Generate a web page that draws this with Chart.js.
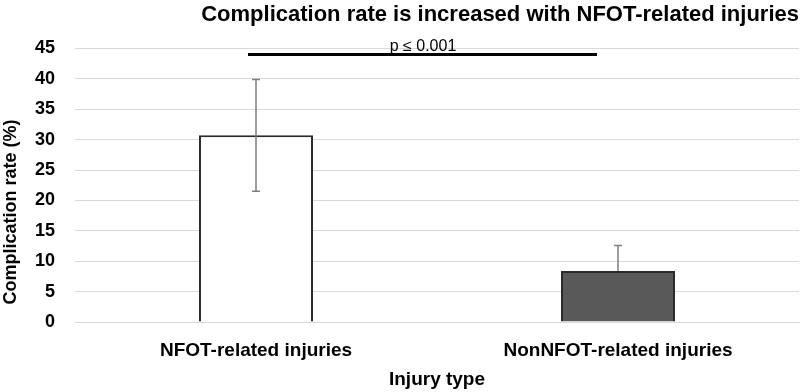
<!DOCTYPE html>
<html>
<head>
<meta charset="utf-8">
<script src="https://cdn.jsdelivr.net/npm/chart.js@4"></script>
<style>
  html, body { margin: 0; padding: 0; background: #fff; }
  #wrap { width: 800px; height: 392px; }
</style>
</head>
<body>
<div id="wrap"><canvas id="barChart" width="800" height="392"></canvas></div>
<script>
const categories = ["NFOT-related injuries", "NonNFOT-related injuries"];
const rates = [30.7, 8.4];
const errPlus = [9.2, 4.2];
const errMinus = [9.2, 0];
const barColors = ["#ffffff", "#595959"];
const yTicks = [0, 5, 10, 15, 20, 25, 30, 35, 40, 45];
const sigY = 44;
const sigLabel = "p \u2264 0.001";

const FONT = "'Liberation Sans', Arial, sans-serif";

const extras = {
  id: "extras",
  afterDatasetsDraw(chart) {
    const ctx = chart.ctx;
    const x = chart.scales.x;
    const y = chart.scales.y;
    ctx.save();
    // error bars
    ctx.strokeStyle = "#7f7f7f";
    ctx.lineWidth = 1.5;
    rates.forEach((v, i) => {
      const cx = x.getPixelForValue(i);
      const top = y.getPixelForValue(v + errPlus[i]);
      const bot = y.getPixelForValue(v - errMinus[i]);
      ctx.beginPath();
      ctx.moveTo(cx, top);
      ctx.lineTo(cx, bot);
      ctx.moveTo(cx - 4, top);
      ctx.lineTo(cx + 4, top);
      if (errMinus[i] > 0) {
        ctx.moveTo(cx - 4, bot);
        ctx.lineTo(cx + 4, bot);
      }
      ctx.stroke();
    });
    // significance line
    const x0 = x.getPixelForValue(0) - 8;
    const x1 = x.getPixelForValue(1) - 21;
    const sy = y.getPixelForValue(sigY);
    ctx.strokeStyle = "#000";
    ctx.lineWidth = 3;
    ctx.beginPath();
    ctx.moveTo(x0, sy);
    ctx.lineTo(x1, sy);
    ctx.stroke();
    ctx.fillStyle = "#000";
    ctx.font = "16px " + FONT;
    ctx.textAlign = "center";
    ctx.textBaseline = "bottom";
    ctx.fillText(sigLabel, (x0 + x1) / 2 + 0.5, sy);
    // y axis title
    ctx.translate(11, 212);
    ctx.rotate(-Math.PI / 2);
    ctx.font = "bold 18px " + FONT;
    ctx.textBaseline = "middle";
    ctx.fillText("Complication rate (%)", 0, 0);
    ctx.restore();
  }
};

new Chart(document.getElementById("barChart").getContext("2d"), {
  type: "bar",
  data: {
    labels: categories,
    datasets: [{
      data: rates,
      backgroundColor: barColors,
      borderColor: "#2b2b2b",
      borderWidth: 2,
      categoryPercentage: 1,
      barPercentage: 0.315
    }]
  },
  options: {
    responsive: false,
    animation: false,
    layout: { padding: { right: 1 } },
    plugins: {
      legend: { display: false },
      tooltip: { enabled: false },
      title: {
        display: true,
        text: "Complication rate is increased with NFOT-related injuries",
        color: "#000",
        font: { family: FONT, size: 22, weight: "bold" },
        align: "end",
        padding: { top: 2, bottom: 20 }
      }
    },
    scales: {
      x: {
        grid: { display: false, drawTicks: false },
        border: { color: "#d9d9d9" },
        ticks: { color: "#000", padding: 17, font: { family: FONT, size: 19, weight: "bold" } },
        title: {
          display: true,
          text: "Injury type",
          color: "#000",
          font: { family: FONT, size: 19, weight: "bold" },
          padding: { top: 0, bottom: 1 }
        },
        afterFit: s => { s.height = 70; }
      },
      y: {
        min: 0,
        max: 45,
        afterBuildTicks: s => { s.ticks = yTicks.map(v => ({ value: v })); },
        grid: { color: "#d9d9d9", drawTicks: false },
        border: { display: false },
        ticks: { color: "#000", padding: 20, font: { family: FONT, size: 18, weight: "bold" } },
        afterFit: s => { s.width = 75; }
      }
    }
  },
  plugins: [extras]
});
</script>
</body>
</html>
